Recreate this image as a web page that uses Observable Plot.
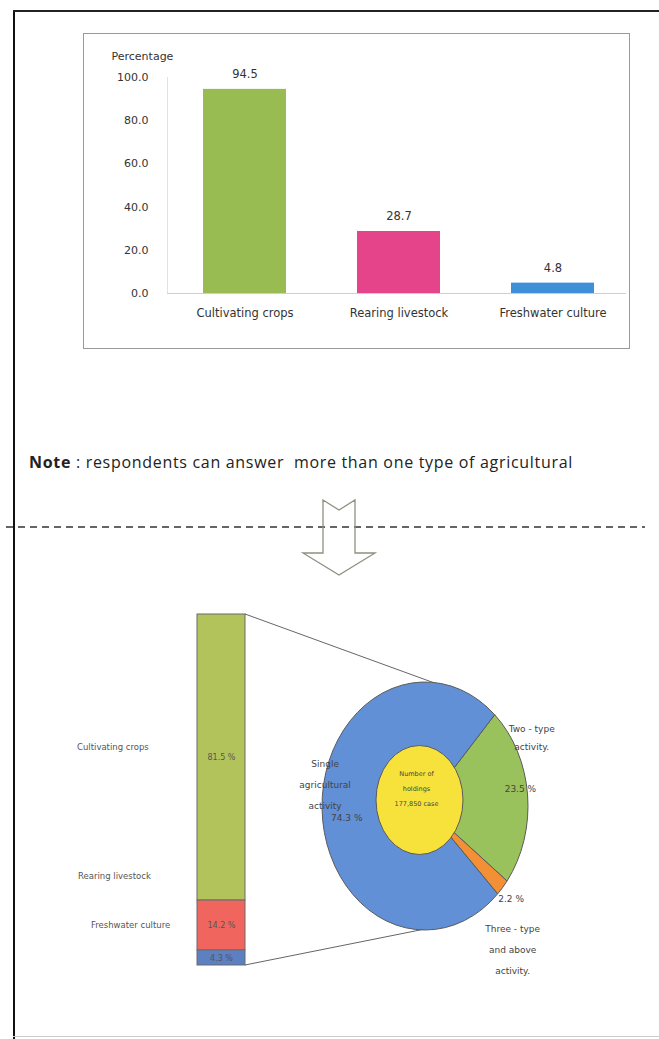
<!DOCTYPE html>
<html>
<head>
<meta charset="utf-8">
<script src="https://cdn.jsdelivr.net/npm/d3@7"></script>
<script src="https://cdn.jsdelivr.net/npm/@observablehq/plot@0.6"></script>
<style>
  html, body { margin: 0; padding: 0; background: #fff; }
  #page { position: relative; width: 659px; height: 1039px; overflow: hidden; background: #fff; font-family: "DejaVu Sans", sans-serif; }
  #frameL { position: absolute; left: 13px; top: 10px; width: 2px; height: 1029px; background: #111; }
  #frameT { position: absolute; left: 13px; top: 10px; width: 646px; height: 2px; background: #222; }
  #frameB { position: absolute; left: 13px; top: 1036px; width: 646px; height: 1px; background: #ccc; }
  #top { position: absolute; left: 83px; top: 33px; width: 545px; height: 314px; border: 1px solid #9a9a9a; }
  #top svg { display: block; }
  #note { position: absolute; left: 29px; top: 451px; font-family: "Open Sans", sans-serif; font-size: 16px; color: #222; white-space: nowrap; }
  #deco { position: absolute; left: 0; top: 480px; }
  #bottom { position: absolute; left: 0; top: 590px; }
</style>
</head>
<body>
<div id="page">
  <div id="frameL"></div><div id="frameT"></div><div id="frameB"></div>
  <div id="top"></div>
  <div id="note"><b>Note</b> : respondents can answer&nbsp; more than one type of agricultural</div>
  <svg id="deco" width="659" height="110">
    <line x1="6" x2="645" y1="47" y2="47" stroke="#333" stroke-width="1.6" stroke-dasharray="7,5"/>
    <path d="M323,20 L339,30 L355,20 L355,73 L375,73 L339,95 L303,73 L323,73 Z" fill="none" stroke="#8f8f80" stroke-width="1.3"/>
  </svg>
  <div id="bottom"></div>
</div>
<script>
// ---- Top chart data ----
const activityCategories = ["Cultivating crops", "Rearing livestock", "Freshwater culture"];
const activityPercentages = [94.5, 28.7, 4.8];
const topYTicks = [0, 20, 40, 60, 80, 100];
const topBarColors = ["#98bb52", "#e5448b", "#3f8fd8"];

// ---- Lower stacked bar data ----
const shareCategories = ["Cultivating crops", "Rearing livestock", "Freshwater culture"];
const shareValues = [81.5, 14.2, 4.3];
const shareColors = ["#b3c35c", "#f0665e", "#5c80c2"];
const shareLabelX = [77, 78, 91];
const shareLabelDy = [-10, -49, -32];

// ---- Pie data ----
const pieNames = [["Two - type", "activity."], ["Three - type", "and above", "activity."], ["Single", "agricultural", "activity"]];
const pieShares = [23.5, 2.2, 74.3];
const pieColors = ["#9ac25c", "#f39036", "#6190d6"];
const pieCenterText = ["Number of", "holdings", "177,850 case"];
const pieStartDeg = 42.6;

// ---------- Top bar chart ----------
const topData = activityCategories.map((c, i) => ({cat: c, pct: activityPercentages[i], color: topBarColors[i]}));
const topFont = "DejaVu Sans, sans-serif";
const topChart = Plot.plot({
  width: 545, height: 314,
  marginLeft: 83, marginRight: 3, marginTop: 43, marginBottom: 55,
  style: {fontFamily: topFont, fontSize: "11px", color: "#333", background: "#fff"},
  x: {domain: activityCategories, range: [47.4, 582], padding: 0.46, axis: null},
  y: {domain: [0, 100], axis: null},
  color: {type: "identity"},
  marks: [
    Plot.frame({anchor: "left", stroke: "#e2e2e2"}),
    Plot.barY(topData, {x: "cat", y: "pct", fill: "color"}),
    Plot.ruleY([0], {stroke: "#cfcfcf", strokeWidth: 1.2}),
    Plot.axisY({ticks: topYTicks, tickFormat: d => d.toFixed(1), tickSize: 0, tickPadding: 19, fontSize: 11, fill: "#333", label: null}),
    Plot.axisX({tickSize: 0, tickPadding: 15, fontSize: 11.5, fill: "#333", label: null}),
    Plot.text(topData, {x: "cat", y: "pct", text: d => d.pct.toFixed(1), dy: -15, fontSize: 11.5, fill: "#333"}),
    Plot.text(["Percentage"], {frameAnchor: "top-left", text: d => d, dx: -56, dy: -25, textAnchor: "start", fontSize: 11, fill: "#333"})
  ]
});
document.getElementById("top").appendChild(topChart);

// fit the note to its width in the reference
{
  const note = document.getElementById("note");
  const w = note.getBoundingClientRect().width;
  const n = note.textContent.length;
  note.style.letterSpacing = ((544 - w) / n).toFixed(3) + "px";
}

// ---------- Lower chart: stacked bar + pie ----------
const cum = [];
{
  let acc = 0;
  for (let i = shareValues.length - 1; i >= 0; i--) {
    cum[i] = {y1: acc, y2: acc + shareValues[i]};
    acc += shareValues[i];
  }
}
const shareData = shareCategories.map((c, i) => ({
  cat: c, v: shareValues[i], color: shareColors[i],
  y1: cum[i].y1, y2: cum[i].y2, mid: (cum[i].y1 + cum[i].y2) / 2
}));

const barX0 = 197, barX1 = 245;
const pieCx = 425, pieCy = 216, pieRx = 103, pieRy = 124;
const holeCx = 419.5, holeCy = 210, holeRx = 43.5, holeRy = 54.5;
const labelCfg = [
  {nameR: 1.04, nameDy: -57, pctR: 0.93, pctDy: -7, lh: 18},
  {nameR: 1.13, nameDy: 52, pctR: 1.11, pctDy: 2, lh: 21},
  {nameR: 0.97, nameDy: -24, pctR: 0.76, pctDy: 10, lh: 21}
];

function shareLabels(index, scales) {
  const g = d3.create("svg:g").attr("font-size", 8.5).attr("fill", "#555").attr("text-anchor", "start");
  shareData.forEach((d, i) => {
    g.append("text").attr("x", shareLabelX[i]).attr("y", scales.y(d.mid) + shareLabelDy[i])
      .attr("dy", "0.35em").attr("text-anchor", "start").text(d.cat);
  });
  return g.node();
}

function pieMark(index, scales) {
  const g = d3.create("svg:g");
  const yTop = scales.y(100), yBot = scales.y(0);
  g.append("line").attr("x1", barX1).attr("y1", yTop).attr("x2", 440).attr("y2", pieCy - pieRy + 3)
    .attr("stroke", "#555").attr("stroke-width", 0.9);
  g.append("line").attr("x1", barX1).attr("y1", yBot).attr("x2", 425).attr("y2", pieCy + pieRy - 1)
    .attr("stroke", "#555").attr("stroke-width", 0.9);
  const a0 = pieStartDeg * Math.PI / 180;
  const arcs = d3.pie().sort(null).value(d => d).startAngle(a0).endAngle(a0 + 2 * Math.PI)(pieShares);
  const arc = d3.arc().innerRadius(0).outerRadius(pieRx);
  const pg = g.append("g").attr("transform", `translate(${pieCx},${pieCy}) scale(1,${pieRy / pieRx})`);
  pg.selectAll("path").data(arcs).join("path")
    .attr("d", arc)
    .attr("fill", (d, i) => pieColors[i])
    .attr("stroke", "#5a5a5a").attr("stroke-width", 1).attr("vector-effect", "non-scaling-stroke");
  g.append("ellipse").attr("cx", holeCx).attr("cy", holeCy).attr("rx", holeRx).attr("ry", holeRy)
    .attr("fill", "#f7e23c").attr("stroke", "#5a5a5a").attr("stroke-width", 1);
  pieCenterText.forEach((t, i) => g.append("text").attr("x", holeCx - 3).attr("y", 185.5 + i * 15)
    .attr("font-size", 6.5).attr("fill", "#444").attr("text-anchor", "middle").text(t));
  arcs.forEach((a, i) => {
    const mid = (a.startAngle + a.endAngle) / 2;
    const cfg = labelCfg[i];
    const px = pieCx + Math.sin(mid) * cfg.pctR * pieRx;
    const py = pieCy - Math.cos(mid) * cfg.pctR * pieRy + cfg.pctDy;
    g.append("text").attr("x", px).attr("y", py).attr("dy", "0.35em").attr("text-anchor", "middle")
      .attr("font-size", 9).attr("fill", "#444").text(pieShares[i].toFixed(1) + " %");
    const nx = pieCx + Math.sin(mid) * cfg.nameR * pieRx;
    const ny = pieCy - Math.cos(mid) * cfg.nameR * pieRy + cfg.nameDy;
    const lines = pieNames[i];
    lines.forEach((t, k) => {
      g.append("text").attr("x", nx).attr("y", ny + (k - (lines.length - 1) / 2) * cfg.lh).attr("dy", "0.35em")
        .attr("text-anchor", "middle").attr("font-size", 9).attr("fill", "#444").text(t);
    });
  });
  return g.node();
}

const bottomChart = Plot.plot({
  width: 659, height: 449,
  margin: 0,
  style: {fontFamily: "DejaVu Sans, sans-serif", background: "transparent"},
  x: {domain: ["all"], range: [barX0, barX1], padding: 0, axis: null},
  y: {domain: [0, 100], range: [375, 24], axis: null},
  color: {type: "identity"},
  marks: [
    Plot.barY(shareData, {x: () => "all", y1: "y1", y2: "y2", fill: "color", stroke: "#6a6a6a", strokeWidth: 1, inset: 0}),
    Plot.text(shareData, {x: () => "all", y: "mid", text: d => d.v.toFixed(1) + " %", fontSize: 8, fill: "#555"}),
    shareLabels,
    pieMark
  ]
});
document.getElementById("bottom").appendChild(bottomChart);
</script>
</body>
</html>
